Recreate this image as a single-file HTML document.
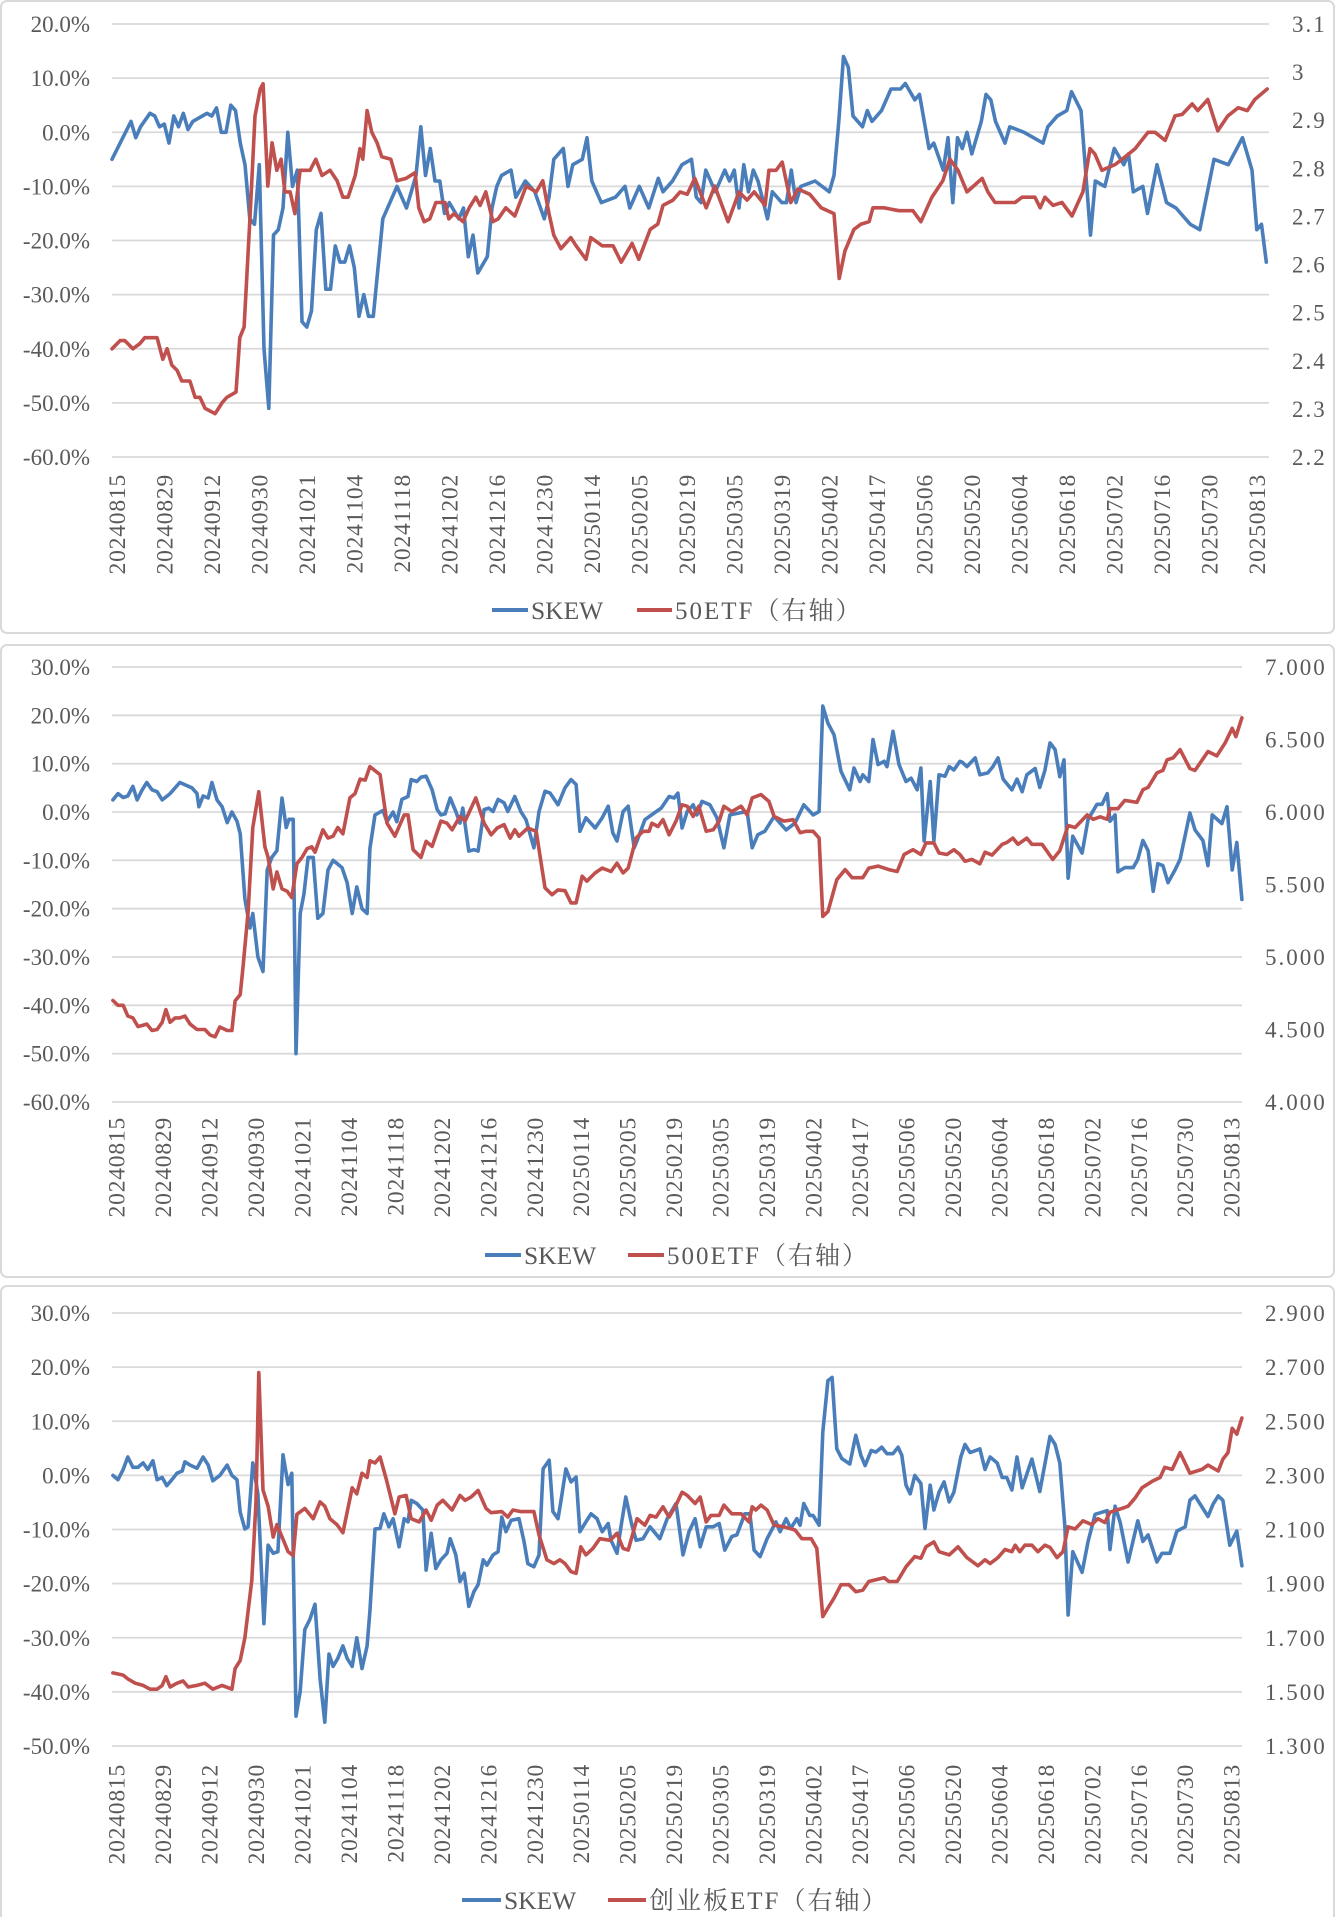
<!DOCTYPE html>
<html><head><meta charset="utf-8">
<style>
html,body{margin:0;padding:0;background:#fff;}
body{width:1335px;height:1917px;position:relative;overflow:hidden;}
svg{position:absolute;left:0;top:0;}
text{font-family:"Liberation Serif","Noto Serif CJK SC",serif;fill:#595959;}
</style></head>
<body>
<svg id="root" width="1335" height="1917"></svg>
<script>
// ---------- shared categories ----------
const dateLabels = ["20240815","20240829","20240912","20240930","20241021","20241104","20241118","20241202","20241216","20241230","20250114","20250205","20250219","20250305","20250319","20250402","20250417","20250506","20250520","20250604","20250618","20250702","20250716","20250730","20250813"];

// ---------- chart 1: 50ETF ----------
const c1LeftTicks = [20,10,0,-10,-20,-30,-40,-50,-60];
const c1RightTicks = [3.1,3,2.9,2.8,2.7,2.6,2.5,2.4,2.3,2.2];
const c1SkewDays = [0,4,5,6,8,9,10,11,12,13,14,15,16,17,19,20,21,22,23,24,25,26,27,28,29,30,31,32,33,34,35,36,37,38,39,40,41,42,43,44,45,46,47,48,49,50,51,52,53,54,55,57,59,60,62,63,64,65,66,67,68,69,70,71,73,74,75,76,77,79,80,81,82,84,85,87,89,91,92,93,95,96,97,99,100,101,103,106,108,109,111,113,115,116,118,120,122,123,124,125,127,129,130,131,132,133,134,135,136,138,139,141,142,143,144,145,148,151,152,153,154,155,156,158,159,160,162,164,166,167,169,170,172,173,175,176,177,178,179,180,181,183,184,185,186,188,189,192,194,196,197,199,201,202,204,206,207,209,211,213,214,215,217,218,220,222,224,227,229,232,235,238,240,241,242,243];
const c1SkewVals = [-5,2,-1,1,3.5,3,1,1.5,-2,3,1,3.5,0.5,2,3,3.5,3,4.5,0,0,5,4,-2,-6,-16,-17,-6,-40,-51,-19,-18,-14,0,-10,-7,-35,-36,-33,-18,-15,-29,-29,-21,-24,-24,-21,-25,-34,-30,-34,-34,-16,-12,-10,-14,-11,-8,1,-8,-3,-9,-9,-15,-13,-16,-14,-23,-19,-26,-23,-14,-10,-8,-7,-12,-9,-11,-16,-12,-5,-3,-10,-6,-5,-1,-9,-13,-12,-10,-14,-10,-14,-8.5,-11,-9,-6,-5,-12,-13,-7,-11,-7,-9,-7,-14,-6,-11,-7,-9,-16,-11,-13,-13,-7,-13,-10,-9,-11,-8,2,14,12,3,1,4,2,4,8,8,9,6,7,-3,-2,-7,-1,-13,-1,-3,0,-4,2,7,6,2,-2,1,0,-1,-2,1,3,4,7.5,4,-19,-9,-10,-3,-6,-4,-11,-10,-15,-6,-13,-14,-17,-18,-5,-6,-1,-7,-18,-17,-24];
const c1EtfDays = [0,1.7,2.7,4.4,5.9,6.9,9.5,10.7,11.6,12.6,13.7,14.7,16.4,17.5,18.5,19.6,21.7,23.2,24.2,26.1,26.9,27.8,29.1,30.1,31.2,31.8,32.8,33.7,34.7,35.6,36.4,37.5,38.5,39.6,41.7,42.9,44.2,45.9,47.4,48.6,49.7,51.2,52.2,52.8,53.7,54.7,55.8,56.8,58.7,60,61.9,63.8,64.6,65.7,66.9,68.2,70.1,70.9,72,73.9,75.2,76.6,77.5,78.7,80.2,81.3,82.9,84.8,87.2,89.3,90.7,92,93,94.5,96.6,97.7,99.8,100.8,103.2,105.5,107.2,109.5,110.9,113.3,114.9,116,118.1,119.6,121.1,122.7,125.1,126.9,129.7,132,133.7,135.2,137.5,138.3,139.8,141.1,142.9,144.4,146.9,149.3,152,153.1,154.3,156.2,157.7,159.4,160.2,162.5,165.7,168.6,170.3,172.6,174.9,176.4,178.1,180,183.2,184.4,185.9,190.1,191.6,194.3,195.4,196.4,198.1,200,202.1,204.4,205.9,206.9,208.4,211.2,213.3,215.4,218.1,219.6,221.7,223.8,225.3,227.4,228.6,230.7,232.8,234.9,237.1,239,240.6,243.2];
const c1EtfVals = [2.425,2.442,2.442,2.425,2.436,2.448,2.448,2.403,2.425,2.391,2.38,2.358,2.358,2.324,2.324,2.301,2.29,2.313,2.324,2.335,2.448,2.47,2.706,2.909,2.965,2.976,2.763,2.853,2.796,2.819,2.751,2.751,2.706,2.796,2.796,2.819,2.785,2.796,2.774,2.74,2.74,2.785,2.841,2.819,2.92,2.875,2.853,2.824,2.819,2.774,2.779,2.791,2.718,2.689,2.695,2.729,2.729,2.695,2.706,2.689,2.718,2.74,2.723,2.751,2.689,2.695,2.718,2.701,2.763,2.751,2.774,2.706,2.661,2.633,2.656,2.639,2.611,2.656,2.639,2.639,2.605,2.644,2.611,2.673,2.684,2.723,2.734,2.751,2.746,2.779,2.718,2.763,2.689,2.751,2.734,2.751,2.723,2.796,2.796,2.813,2.729,2.757,2.746,2.718,2.706,2.571,2.628,2.673,2.684,2.689,2.718,2.718,2.712,2.712,2.689,2.74,2.774,2.819,2.796,2.751,2.779,2.751,2.729,2.729,2.74,2.74,2.718,2.74,2.723,2.729,2.701,2.751,2.841,2.83,2.796,2.808,2.824,2.841,2.875,2.875,2.858,2.909,2.912,2.934,2.92,2.943,2.878,2.909,2.926,2.92,2.943,2.965];

// ---------- chart 2: 500ETF ----------
const c2LeftTicks = [30,20,10,0,-10,-20,-30,-40,-50,-60];
const c2RightTicks = ["7.000","6.500","6.000","5.500","5.000","4.500","4.000"];
const c2SkewDays = [0.2,1.3,2.4,3.4,4.5,5.4,6.5,7.5,8.6,9.7,10.8,12.5,14.6,17.2,18.3,18.7,19.6,20.7,21.5,22.6,23.7,24.8,25.8,26.9,27.6,28.6,29.7,30.3,31.4,32.5,33.4,34.4,35.5,36.6,37.5,38.1,39,39.6,40.5,41.3,42.2,43.3,44.3,45.4,46.5,47.6,49.5,50.6,51.7,52.7,53.8,54.9,55.5,56.6,58.3,59.2,60.5,61.3,62.4,63.7,64.4,65.6,66.5,67.6,68.9,70,70.8,71.7,72.8,74,74.9,75.5,76.8,77.9,78.8,80.1,81.1,82,83.1,84.4,85.2,86.7,88,89.1,90.8,91.9,93.2,94.3,96,97.5,98.8,99.9,100.7,102,104,105.5,106.8,107.8,108.7,110,111.1,112.4,113,114.7,116.7,118.2,119.9,121,121.8,122.7,123.8,125.1,125.9,127,128.7,130.2,131.7,133,135,136.7,137.8,139,140.5,142.5,145.1,147,148.9,150.9,152.2,153,154.1,155.4,156.9,158.8,159.7,161,161.6,162.9,163.8,164.9,166.2,166.8,168.1,169.4,170.9,172,173.3,174.1,174.8,176.1,176.9,178,179.3,180.2,181.2,182.5,183,184,185.8,186.8,188.5,189.6,190.7,191.8,193.7,194.8,195.9,196.9,198.7,199.7,200.8,201.9,203,204,204.9,205.8,206.8,208.8,210.1,212,213.1,214.2,214.8,215.9,216.5,218,219.8,220.8,221.9,223,224.1,225.1,226.2,227.3,228.8,229.9,232,233.1,234.8,235.9,236.8,238.9,240,241.1,242.1,243.2];
const c2SkewVals = [2.5,3.8,3,3.3,5.3,2.5,4.6,6.1,4.6,4.2,2.5,3.8,6.1,5,3.8,1.1,3.3,2.9,6.1,2.5,1.1,-2.2,0,-1.9,-4.5,-18,-24,-21,-30,-33,-12,-9.4,-8,2.9,-3.2,-1.5,-1.5,-50,-21,-17,-9.4,-9.4,-22,-21,-12,-10,-11.5,-14.6,-21,-15.5,-20,-21,-7.6,-0.6,0.3,-2,0,-2,2.6,3.2,6.7,6.3,7.2,7.4,4.6,0.5,-0.6,-0.4,2.9,0.1,-2.3,0.8,-8.1,-7.8,-8.1,0.5,0.8,0.1,2.6,1.9,0.1,3.2,0.1,-1.6,-7.4,0.1,4.3,3.9,1.5,5,6.7,5.7,-4,-1.2,-3.3,-1.2,1.2,-4.3,-6,0.1,1.2,-7.4,-6,-1.6,-0.2,0.8,3.2,2.9,3.9,-3.3,0.1,1.5,-0.6,2.2,1.5,-1.2,-7.4,-0.6,-0.2,0.1,-7.4,-4.7,-4,-0.9,-3.7,-2.3,1.5,-0.6,0.1,21.9,18.4,16,8.4,4.6,9.1,6.3,7.7,6.3,15,9.8,10.5,9.4,16.7,9.8,6.3,7,4.6,9.1,-6,6.3,-6,7.7,7.4,9.4,8.7,10.5,10.3,9.4,11.2,7.7,8.1,9.4,11.2,6.8,4.6,6.8,4.2,7.7,9,5.1,8.6,14.3,12.9,7.3,10.8,-13.7,-5,-8.5,-1.5,1.6,1.6,3.8,-1.9,-0.6,-12.4,-11.5,-11.5,-9.8,-5.9,-8,-16.4,-10.7,-11.1,-14.6,-12,-9.8,-0.2,-3.7,-5.9,-11.1,-0.6,-2.4,1.1,-12,-6.3,-18.1];
const c2EtfDays = [0.2,1.3,2.4,3.4,4.5,5.6,7.5,8.6,9.7,10.8,11.6,12.5,13.6,14.6,15.7,16.8,18.3,20,21.1,22.2,23.2,24.8,25.8,26.5,27.6,28.2,29.3,30.3,31.6,32.9,33.6,34.7,35.5,36.6,37.7,38.7,39.8,40.9,42,43,43.7,45.4,46.5,47.6,48.6,49.7,51.2,52.3,53.4,54.5,55.5,57.7,59.2,60.9,62.9,63.7,64.8,66.5,67.6,68.9,70.8,72.1,73.2,74.9,76,78.3,80.1,81.6,82.9,84.4,85.7,86.7,87.6,89.5,91.3,93.2,94.7,96,97.5,98.8,99.9,101.2,102.2,104,105.5,107.4,108.7,110,111.1,112.8,114.3,115.6,116.2,117.5,118.6,119.9,121.4,122.7,123.8,125.1,126.3,127.9,129.4,130.7,131.7,133.4,135.4,136.7,137.8,139.7,141.4,142.5,144.6,146.6,148.1,149.4,150.9,152.2,153,154.1,156,157.8,159.3,161.6,162.9,164.9,167.2,169,170.5,172.4,174.1,175.2,176.9,178,179.7,181.2,182.5,183.6,185.1,186.8,187.9,189.4,191.6,192.6,193.9,195,196.9,198,200.2,202.5,204,205.8,207.3,209.9,211.2,212.7,214.2,214.8,216.5,218,220.6,221.9,223,224.9,226.2,227.1,228.4,229.9,232,233.1,235.9,237.8,239.6,241.1,241.9,243.2];
const c2EtfVals = [4.70,4.667,4.667,4.593,4.58,4.52,4.537,4.493,4.5,4.55,4.637,4.55,4.58,4.58,4.593,4.537,4.5,4.5,4.463,4.45,4.517,4.493,4.493,4.697,4.74,4.93,5.31,5.893,6.14,5.76,5.687,5.47,5.587,5.47,5.453,5.41,5.643,5.687,5.747,5.76,5.723,5.877,5.82,5.833,5.893,5.85,6.097,6.127,6.227,6.22,6.313,6.257,5.923,5.833,5.98,5.98,5.74,5.687,5.797,5.763,5.937,5.923,5.877,5.97,5.937,6.097,5.923,5.843,5.89,5.913,5.82,5.877,5.833,5.89,5.867,5.477,5.43,5.463,5.457,5.373,5.373,5.557,5.523,5.58,5.613,5.59,5.647,5.58,5.613,5.82,5.867,5.867,5.923,5.9,5.947,5.843,5.937,6.05,6.04,5.97,6.04,5.867,5.877,5.937,6.04,6.003,6.04,5.98,6.097,6.12,6.073,5.97,5.937,5.947,5.857,5.867,5.867,5.82,5.28,5.313,5.533,5.603,5.547,5.547,5.613,5.627,5.603,5.59,5.707,5.74,5.707,5.787,5.787,5.717,5.707,5.74,5.707,5.66,5.673,5.643,5.723,5.703,5.777,5.79,5.82,5.777,5.82,5.777,5.777,5.673,5.733,5.907,5.893,5.98,5.95,5.967,5.95,6.023,6.023,6.08,6.067,6.153,6.17,6.27,6.287,6.36,6.373,6.43,6.3,6.287,6.417,6.387,6.477,6.577,6.52,6.65];

// ---------- chart 3: ChiNext ETF ----------
const c3LeftTicks = [30,20,10,0,-10,-20,-30,-40,-50];
const c3RightTicks = ["2.900","2.700","2.500","2.300","2.100","1.900","1.700","1.500","1.300"];
const c3SkewDays = [0.2,1.3,2.4,3.4,4.5,5.6,6.7,7.7,8.8,9.7,10.8,11.8,12.9,14,15.1,15.7,16.8,18.3,19.6,20.7,21.7,23.2,24.8,25.8,26.9,27.6,28.6,29.3,30.3,31.4,32.7,33.6,34.7,35.7,36.8,37.9,38.7,39.6,40.5,41.5,42.6,43.7,44.8,45.8,46.7,47.6,48.6,49.7,50.6,51.7,52.7,53.8,54.9,55.5,56.6,57.7,58.5,59.6,60.5,61.8,62.9,63.7,64.4,65.6,66.9,67.6,68.7,69.7,70.8,72.1,72.8,74,74.9,75.8,76.8,77.9,78.8,79.9,80.7,82,83.1,83.9,84.8,85.9,87.6,88.7,89.5,90.8,91.9,92.8,94.1,94.9,96,96.6,97.7,98.8,99.9,100.7,102,103.1,104.4,105.5,106.8,107.4,108.7,109.6,110.6,111.9,112.8,114.3,115.8,117.9,119.5,121.4,122.9,124.2,125.5,126.6,127.9,129.4,130.7,131.9,133.4,134.5,136.2,137.3,138.2,139.5,141,142.9,143.8,145.1,146.1,147.4,148.1,148.9,150.2,150.9,152.2,153,154.1,155,156,157.1,158.8,160.1,161.2,162.1,163.4,164.4,165.7,166.8,168.1,169.2,170,170.9,171.8,172.8,174.1,175,176.1,176.9,178,179.1,180.2,181.2,182.7,183.6,184.7,186.8,187.9,189,190.5,191.6,192.6,193.7,194.8,195.9,198,199.7,201.9,203,204,205.1,205.8,206.8,208.8,210.1,211.6,213.1,214.2,214.8,215.9,217,218.7,220.8,221.9,223,224.9,226,227.7,229.2,231,232,233.1,235.9,237,238.1,239.1,240.6,242.1,243.2];
const c3SkewVals = [0,-0.8,1.1,3.4,1.5,1.5,2.3,1.1,2.7,-0.8,-0.4,-1.9,-0.8,0.4,0.8,2.5,1.9,1.3,3.4,1.9,-1,0,1.9,0,-0.8,-6.8,-9.9,-9.5,2.3,-3.4,-27.4,-12.9,-14.4,-14.1,3.8,-1.7,0.4,-44.5,-39.9,-28.5,-26.6,-23.8,-37.6,-45.6,-33,-35.3,-33.8,-31.5,-33.8,-35.3,-30,-35.7,-31.5,-25.1,-9.9,-9.8,-7.1,-9.5,-8,-13.2,-8,-8.6,-4.6,-5.2,-6.4,-17.5,-10.7,-17.2,-15.6,-14.4,-11.7,-14.7,-19.6,-18.1,-24.2,-21.5,-20.2,-15.6,-16.6,-14.7,-14.1,-7.7,-10.4,-8.3,-8,-12.3,-16.3,-16.9,-14.7,1.2,2.8,-6.7,-8,-4.9,1.2,-1.2,-0.3,-10.4,-8.6,-7.1,-8,-10.4,-8.9,-12,-14.4,-9.2,-4,-9.2,-12,-11.7,-9.5,-11.7,-8,-5.2,-14.7,-10.4,-8,-13.2,-9.5,-9.5,-8.9,-13.8,-11.3,-11,-7.1,-7.1,-13.8,-15,-11.7,-8.6,-10.4,-8,-9.8,-8,-9.2,-5.2,-7.4,-7.4,-9.2,8,17.5,18.1,4.9,3.1,2.1,7.4,3.7,1.8,4.6,4.3,5.2,4,4,5.2,3.7,-1.8,-3.4,0,-1.5,-9.8,-1.8,-6.4,-3.1,-1.2,-4.9,-3.1,3.4,5.7,4.2,4.9,1.1,3.4,2.3,-0.4,-0.4,-2.7,3.4,-2.3,3,-3,7.2,5.7,2.3,-9.5,-25.8,-14.1,-17.9,-12.2,-7.2,-6.8,-6.5,-13.7,-5.7,-8.7,-16,-8.4,-12.2,-11,-16,-14.4,-14.4,-10.3,-9.5,-4.6,-3.8,-7.6,-5.3,-3.8,-4.6,-12.9,-10.3,-16.7];
const c3EtfDays = [0.2,2.4,3.4,5,6.7,8.2,9.7,10.8,11.6,12.5,14,15.3,16.4,18.3,20,21.7,23.7,25.8,26.5,27.6,28.6,30.1,31,31.6,32.5,33.6,34.7,35.5,36.8,37.9,39,39.8,41.5,43.3,44.8,45.8,46.9,48.4,49.7,51.7,52.7,53.8,54.9,55.5,56.6,57.7,59,60.9,61.8,63.3,64.4,66.1,67.6,68.7,70,71.2,73.2,74.9,76,77.3,78.8,80.5,81.6,83.9,85.2,86.3,88,90.8,91.9,93.6,95.1,96.4,97.5,98.8,99.9,100.9,102,103.5,105,107.2,108.7,110,111.1,113,114.7,115.8,117.1,118.6,119.9,121.4,122.7,123.8,125.5,126.6,127.9,128.9,130.7,131.7,133.4,135.4,137.1,137.8,138.6,139.7,141,142.5,144.6,147,148.5,150.5,151.7,153,154.1,155.4,156.9,158.6,160.1,161.6,162.9,164.4,166.2,167.2,169,170.9,172.8,174.1,175.2,176.9,178,180.2,182.1,184,186.4,187.9,189,190.7,192.2,193.7,194.4,195.4,196.5,198,199.3,200.8,201.9,203.4,204.7,205.8,207.3,209,210.9,212.2,213.7,214.8,217.4,218.7,220.2,221.7,223.9,225.6,226.6,228.2,229.9,232,234.6,235.9,238.1,239.1,240.2,241.1,242.1,243.2];
const c3EtfVals = [1.57,1.562,1.548,1.532,1.524,1.51,1.51,1.524,1.556,1.518,1.532,1.54,1.518,1.524,1.532,1.51,1.524,1.51,1.586,1.616,1.70,1.912,2.202,2.68,2.246,2.186,2.072,2.118,2.064,2.018,2.004,2.156,2.178,2.14,2.202,2.186,2.14,2.118,2.088,2.254,2.232,2.308,2.292,2.354,2.346,2.368,2.288,2.158,2.22,2.226,2.14,2.128,2.172,2.134,2.19,2.208,2.172,2.226,2.208,2.22,2.244,2.178,2.162,2.166,2.146,2.172,2.166,2.166,2.08,1.988,1.974,1.988,1.974,1.944,1.938,2.036,2.006,2.03,2.066,2.06,2.086,2.03,2.024,2.14,2.116,2.152,2.146,2.184,2.146,2.19,2.238,2.226,2.196,2.22,2.128,2.152,2.152,2.19,2.158,2.158,2.128,2.184,2.172,2.19,2.172,2.116,2.11,2.098,2.066,2.066,2.03,1.778,1.81,1.846,1.896,1.896,1.87,1.876,1.908,1.914,1.922,1.908,1.908,1.962,2.0,1.994,2.036,2.054,2.018,2.006,2.036,1.996,1.966,1.988,1.974,1.996,2.026,2.018,2.042,2.018,2.042,2.042,2.018,2.042,2.034,1.996,2.018,2.11,2.102,2.132,2.118,2.14,2.126,2.164,2.178,2.186,2.216,2.254,2.278,2.292,2.33,2.322,2.384,2.308,2.322,2.338,2.316,2.36,2.384,2.474,2.452,2.512];

const NS = "http://www.w3.org/2000/svg";
const root = document.getElementById('root');
function mk(tag, attrs, parent){
  const e = document.createElementNS(NS, tag);
  for (const k in attrs) e.setAttribute(k, attrs[k]);
  (parent||root).appendChild(e);
  return e;
}
const BLUE = "#4a7ebb", RED = "#c0504d";

function drawChart(cfg){
  const g = mk('g', {});
  
  
  const pb = mk('rect', {x:cfg.panel[0], y:cfg.panel[1], width:cfg.panel[2], height:cfg.panel[3], rx:6, fill:'#fff', stroke:'#d9d9d9', 'stroke-width':2}, g);
  
  
  const xOf = t => cfg.x0 + cfg.step * t;
  const yL = v => cfg.yTop + (cfg.lMax - v) / (cfg.lMax - cfg.lMin) * (cfg.yBot - cfg.yTop);
  const yR = v => cfg.yTop + (cfg.rMax - v) / (cfg.rMax - cfg.rMin) * (cfg.yBot - cfg.yTop);
  cfg.leftTicks.forEach(v => {
    const y = yL(v);
    const gl = mk('line', {x1:cfg.x0, x2:cfg.xEnd, y1:y, y2:y, stroke:'#d9d9d9', 'stroke-width':1.8}, g);
    
    
    const t = mk('text', {x:90, y:y+8, 'text-anchor':'end', 'font-size':23}, g);
    t.textContent = v.toFixed(1) + '%';
    
    
  });
  cfg.rightTicks.forEach(lbl => {
    const y = yR(parseFloat(lbl));
    const t = mk('text', {x:cfg.rx, y:y+8, 'text-anchor':'start', 'font-size':23, 'letter-spacing':2}, g);
    t.textContent = lbl;
    
    
  });
  dateLabels.forEach((d, k) => {
    const x = xOf(1 + 10 * k);
    const t = mk('text', {x:0, y:0, 'text-anchor':'end', 'font-size':23.5, 'letter-spacing':0.8, transform:`translate(${x+8},${cfg.xLabTop}) rotate(-90)`}, g);
    t.textContent = d;
    
    
  });
  function series(days, vals, yf, color, nm){
    const pts = days.map((t, i) => xOf(t).toFixed(1) + ',' + yf(vals[i]).toFixed(1)).join(' ');
    const p = mk('polyline', {points:pts, fill:'none', stroke:color, 'stroke-width':3.6, 'stroke-linejoin':'round', 'stroke-linecap':'round'}, g);
    
    
  }
  series(cfg.skewDays, cfg.skewVals, yL, BLUE, 'skew-line');
  series(cfg.etfDays, cfg.etfVals, yR, RED, 'etf-line');
  const L = cfg.legend;
  const lg = mk('g', {}, g);
  
  
  const l1 = mk('line', {x1:L.b0, x2:L.b1, y1:L.y, y2:L.y, stroke:BLUE, 'stroke-width':4}, lg);
  
  
  const t1 = mk('text', {x:L.b1+3, y:L.y+9, 'font-size':25.5}, lg);
  t1.textContent = 'SKEW';
  
  
  const l2 = mk('line', {x1:L.r0, x2:L.r1, y1:L.y, y2:L.y, stroke:RED, 'stroke-width':4}, lg);
  
  
  const t2 = mk('text', {x:L.r1+3, y:L.y+9, 'font-size':25, 'letter-spacing':2}, lg);
  t2.textContent = cfg.etfLabel;
  
  
}

drawChart({name:'chart-50etf', panel:[1,1,1333,632], x0:112, step:4.75, xEnd:1269, yTop:24, yBot:457,
  lMax:20, lMin:-60, rMax:3.1, rMin:2.2, rx:1292, xLabTop:474,
  leftTicks:c1LeftTicks, rightTicks:c1RightTicks.map(v=>String(v)),
  skewDays:c1SkewDays, skewVals:c1SkewVals, etfDays:c1EtfDays, etfVals:c1EtfVals,
  legend:{y:610, b0:492, b1:528, r0:637, r1:672}, etfLabel:'50ETF（右轴）'});

drawChart({name:'chart-500etf', panel:[1,645,1333,632], x0:112, step:4.646, xEnd:1242, yTop:667, yBot:1102,
  lMax:30, lMin:-60, rMax:7, rMin:4, rx:1265, xLabTop:1117,
  leftTicks:c2LeftTicks, rightTicks:c2RightTicks,
  skewDays:c2SkewDays, skewVals:c2SkewVals, etfDays:c2EtfDays, etfVals:c2EtfVals,
  legend:{y:1255, b0:485, b1:521, r0:628, r1:664}, etfLabel:'500ETF（右轴）'});

drawChart({name:'chart-chinext-etf', panel:[1,1286,1333,640], x0:112, step:4.646, xEnd:1242, yTop:1313, yBot:1746,
  lMax:30, lMin:-50, rMax:2.9, rMin:1.3, rx:1265, xLabTop:1764,
  leftTicks:c3LeftTicks, rightTicks:c3RightTicks,
  skewDays:c3SkewDays, skewVals:c3SkewVals, etfDays:c3EtfDays, etfVals:c3EtfVals,
  legend:{y:1900, b0:462, b1:501, r0:608, r1:646}, etfLabel:'创业板ETF（右轴）'});
</script>
</body></html>
